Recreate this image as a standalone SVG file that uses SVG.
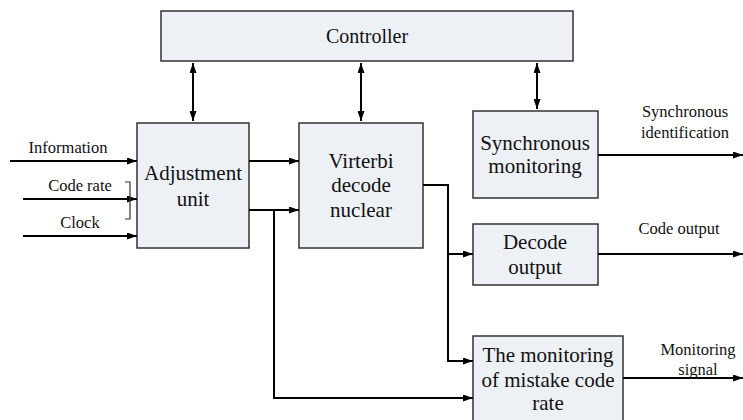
<svg xmlns="http://www.w3.org/2000/svg" width="743" height="420" viewBox="0 0 743 420">
<style>
.box{fill:#edf0f5;stroke:#333;stroke-width:1.5}
text{font-family:'Liberation Serif','Times New Roman','DejaVu Serif',serif;fill:#111;text-anchor:middle}
.bt{font-size:21px}
.ct{font-size:20px}
.lt{font-size:16.5px}
.ln{fill:none;stroke:#000;stroke-width:2}
.br{fill:none;stroke:#333;stroke-width:1.2}
</style>
<defs>
<marker id="ah" markerWidth="10" markerHeight="7" refX="10" refY="3.5" orient="auto-start-reverse" markerUnits="userSpaceOnUse">
<path d="M0,0 L10,3.5 L0,7 Z" fill="#000"/>
</marker>
</defs>
<rect width="743" height="420" fill="#fff"/>
<g id="controller"><rect class="box" x="161" y="11" width="412" height="50"/><text class="ct" x="367" y="43">Controller</text></g>
<g id="adjust"><rect class="box" x="137" y="123" width="112" height="125"/><text class="bt" x="193" y="180">Adjustment</text><text class="bt" x="193" y="206">unit</text></g>
<g id="viterbi"><rect class="box" x="299" y="123" width="124" height="125"/><text class="bt" x="361" y="168">Virterbi</text><text class="bt" x="361" y="192">decode</text><text class="bt" x="361" y="217">nuclear</text></g>
<g id="sync"><rect class="box" x="473" y="111" width="125" height="87"/><text class="bt" x="535" y="150">Synchronous</text><text class="bt" x="535" y="173">monitoring</text></g>
<g id="decode"><rect class="box" x="473" y="224" width="125" height="61"/><text class="bt" x="535" y="249">Decode</text><text class="bt" x="535" y="274">output</text></g>
<g id="mistake"><rect class="box" x="473" y="336" width="150" height="90"/><text class="bt" x="548" y="362">The monitoring</text><text class="bt" x="548" y="387">of mistake code</text><text class="bt" x="548" y="410">rate</text></g>
<g id="labels">
<text class="lt" x="68" y="153">Information</text>
<text class="lt" x="80" y="191">Code rate</text>
<text class="lt" x="80" y="228">Clock</text>
<text class="lt" x="685" y="117">Synchronous</text>
<text class="lt" x="685" y="138">identification</text>
<text class="lt" x="679" y="234">Code output</text>
<text class="lt" x="698" y="355">Monitoring</text>
<text class="lt" x="698" y="375">signal</text>
</g>
<g id="connectors">
<line class="ln" x1="193" y1="63" x2="193" y2="121" marker-start="url(#ah)" marker-end="url(#ah)"/>
<line class="ln" x1="361" y1="63" x2="361" y2="121" marker-start="url(#ah)" marker-end="url(#ah)"/>
<line class="ln" x1="537" y1="63" x2="537" y2="109" marker-start="url(#ah)" marker-end="url(#ah)"/>
<line class="ln" x1="10" y1="161" x2="137" y2="161" marker-end="url(#ah)"/>
<line class="ln" x1="23" y1="199" x2="137" y2="199" marker-end="url(#ah)"/>
<line class="ln" x1="23" y1="236" x2="137" y2="236" marker-end="url(#ah)"/>
<path class="br" d="M125,182 H130 V219 H125"/>
<line class="ln" x1="249" y1="161" x2="299" y2="161" marker-end="url(#ah)"/>
<line class="ln" x1="249" y1="210" x2="299" y2="210" marker-end="url(#ah)"/>
<polyline class="ln" points="274,210 274,398 473,398" marker-end="url(#ah)"/>
<polyline class="ln" points="423,185 448,185 448,361 473,361" marker-end="url(#ah)"/>
<line class="ln" x1="448" y1="254" x2="473" y2="254" marker-end="url(#ah)"/>
<line class="ln" x1="598" y1="155" x2="743" y2="155" marker-end="url(#ah)"/>
<line class="ln" x1="598" y1="254" x2="743" y2="254" marker-end="url(#ah)"/>
<line class="ln" x1="623" y1="378" x2="743" y2="378" marker-end="url(#ah)"/>
</g>
</svg>
